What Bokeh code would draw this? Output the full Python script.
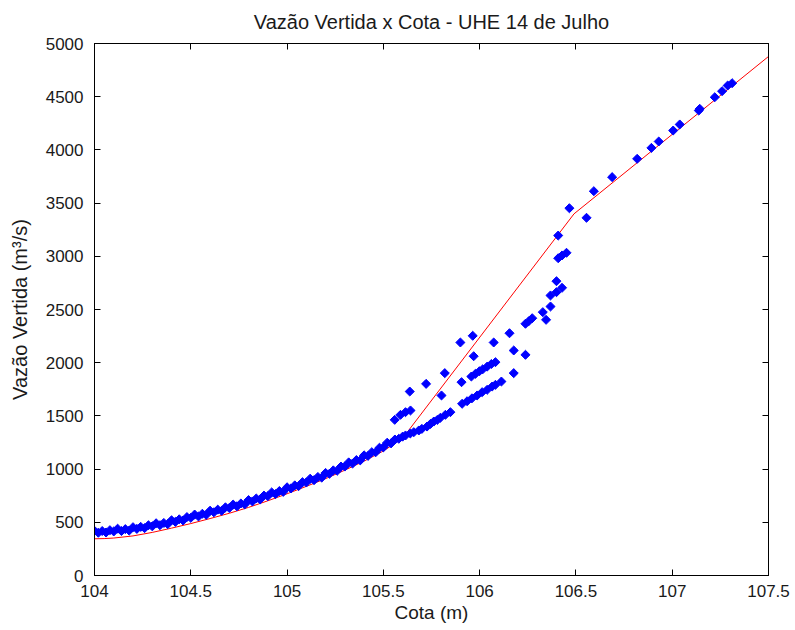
import math
from bokeh.plotting import figure
from bokeh.models import LinearAxis, FixedTicker, Range1d, CustomJSTickFormatter
from bokeh.embed import file_html
from bokeh.resources import INLINE

# ---- data ----
title_text = "Vazão Vertida x Cota - UHE 14 de Julho"
x_label = "Cota (m)"
y_label = "Vazão Vertida (m³/s)"
x_ticks = [104, 104.5, 105, 105.5, 106, 106.5, 107, 107.5]
y_ticks = [0, 500, 1000, 1500, 2000, 2500, 3000, 3500, 4000, 4500, 5000]

# dense lower band of observations
band_x = [104.00, 104.02, 104.04, 104.06, 104.08, 104.10, 104.12, 104.14, 104.16, 104.18,
          104.20, 104.22, 104.24, 104.26, 104.28, 104.30, 104.32, 104.34, 104.36, 104.38,
          104.40, 104.42, 104.44, 104.46, 104.48, 104.50, 104.52, 104.54, 104.56, 104.58,
          104.60, 104.62, 104.64, 104.66, 104.68, 104.70, 104.72, 104.74, 104.76, 104.78,
          104.80, 104.82, 104.84, 104.86, 104.88, 104.90, 104.92, 104.94, 104.96, 104.98,
          105.00, 105.02, 105.04, 105.06, 105.08, 105.10, 105.12, 105.14, 105.16, 105.18,
          105.20, 105.22, 105.24, 105.26, 105.28, 105.30, 105.32, 105.34, 105.36, 105.38,
          105.40, 105.42, 105.44, 105.46, 105.48, 105.50, 105.52, 105.54, 105.56,
          105.58, 105.60, 105.615, 105.64, 105.658, 105.684, 105.70, 105.727, 105.745, 105.762,
          105.78, 105.796, 105.822, 105.848, 105.909, 105.935, 105.96, 105.987, 106.013, 106.039,
          106.065, 106.082, 106.113]
band_y = [420, 402, 418, 404, 426, 414, 440, 418, 436, 422,
          454, 438, 457, 445, 472, 462, 491, 473, 494, 482,
          519, 504, 528, 517, 549, 542, 573, 555, 580, 570,
          609, 594, 619, 608, 641, 634, 667, 650, 677, 668,
          709, 696, 724, 715, 751, 746, 781, 765, 794, 786,
          829, 818, 847, 840, 877, 874, 910, 896, 926, 920,
          964, 956, 988, 984, 1024, 1024, 1063, 1052, 1085, 1082,
          1129, 1124, 1159, 1158, 1201, 1204, 1248, 1242, 1278,
          1285, 1305, 1316, 1335, 1347, 1363, 1378, 1400, 1425, 1447,
          1462, 1482, 1510, 1535, 1614, 1638, 1665, 1692, 1723, 1745,
          1776, 1792, 1823]

# scattered observations above the band
scat_x = [105.559, 105.589, 105.615, 105.641, 105.637, 105.722, 105.802, 105.819, 105.900, 105.964,
          105.906, 105.969, 105.957, 105.978, 105.999, 106.016, 106.039, 106.061, 106.082, 106.073,
          106.155, 106.177, 106.177, 106.238, 106.238, 106.255, 106.273, 106.328, 106.345, 106.368,
          106.368, 106.399, 106.428, 106.399, 106.408, 106.428, 106.451, 106.408, 106.466, 106.555,
          106.593, 106.688, 106.818, 106.892, 106.930, 107.005, 107.039, 107.138, 107.143, 107.221,
          107.259, 107.288, 107.311]
scat_y = [1463, 1510, 1535, 1551, 1729, 1801, 1692, 1902, 2190, 2253,
          1817, 2061, 1870, 1895, 1920, 1938, 1963, 1988, 2005, 2190,
          2277, 2115, 1902, 2074, 2366, 2390, 2418, 2475, 2403, 2528,
          2632, 2663, 2704, 2766, 2982, 3008, 3033, 3195, 3452, 3362,
          3612, 3744, 3916, 4019, 4079, 4182, 4239, 4370, 4386, 4495,
          4552, 4605, 4627]

# fitted rating curve (red)
curve_x = [104.0, 104.05, 104.1, 104.2, 104.3, 104.4, 104.5, 104.6, 104.7, 104.8,
           104.9, 105.0, 105.1, 105.2, 105.3, 105.4, 105.5, 105.6, 106.49, 107.5]
curve_y = [345, 347, 352, 372, 405, 445, 488, 535, 585, 640,
           702, 768, 838, 910, 990, 1075, 1170, 1290, 3399, 4878]

FONT = "Liberation Sans"
TEXT_COLOR = "#1a1a1a"

p = figure(frame_width=674, frame_height=532,
           min_border_left=94, min_border_right=27, min_border_top=43, min_border_bottom=55,
           x_range=Range1d(104, 107.5), y_range=Range1d(0, 5000),
           output_backend="svg", toolbar_location=None)

p.xgrid.visible = False
p.ygrid.visible = False
p.outline_line_color = "black"
p.outline_line_width = 1
p.background_fill_color = "white"
p.border_fill_color = "white"

for ax in (p.xaxis[0], p.yaxis[0]):
    ax.major_tick_in = 6
    ax.major_tick_out = 0
    ax.minor_tick_line_color = None
    ax.axis_line_color = "black"
    ax.major_tick_line_color = "black"
    ax.major_label_text_font = FONT
    ax.major_label_text_font_size = "17px"
    ax.major_label_text_color = TEXT_COLOR
    ax.axis_label_text_font = FONT
    ax.axis_label_text_font_style = "normal"
    ax.axis_label_text_color = TEXT_COLOR

p.xaxis[0].ticker = FixedTicker(ticks=x_ticks)
p.yaxis[0].ticker = FixedTicker(ticks=y_ticks)
p.xaxis[0].axis_label = x_label
p.yaxis[0].axis_label = y_label
p.xaxis[0].axis_label_text_font_size = "19px"
p.yaxis[0].axis_label_text_font_size = "20px"
p.xaxis[0].major_label_standoff = 9
p.xaxis[0].axis_label_standoff = 2
p.yaxis[0].major_label_standoff = 11
p.yaxis[0].axis_label_standoff = 12

blank = CustomJSTickFormatter(code="return ''")
top = LinearAxis(ticker=FixedTicker(ticks=x_ticks), formatter=blank)
right = LinearAxis(ticker=FixedTicker(ticks=y_ticks), formatter=blank)
for ax in (top, right):
    ax.major_tick_in = 6
    ax.major_tick_out = 0
    ax.minor_tick_line_color = None
    ax.axis_line_color = "black"
    ax.major_label_text_font_size = "0px"
    ax.major_label_standoff = 0
# the chart title is drawn as the label of the top axis
top.axis_label = title_text
top.axis_label_text_font = FONT
top.axis_label_text_font_size = "20px"
top.axis_label_text_font_style = "normal"
top.axis_label_text_color = TEXT_COLOR
top.axis_label_standoff = 11
p.add_layout(top, "above")
p.add_layout(right, "right")

p.line(curve_x, curve_y, line_color="#FF0000", line_width=1)
p.scatter(band_x, band_y, marker="square", angle=math.pi / 4, size=6.4,
          fill_color="#0000FF", line_color="#0000FF")
p.scatter(scat_x, scat_y, marker="square", angle=math.pi / 4, size=6.4,
          fill_color="#0000FF", line_color="#0000FF")

open("out.html", "w").write(file_html(p, INLINE))
